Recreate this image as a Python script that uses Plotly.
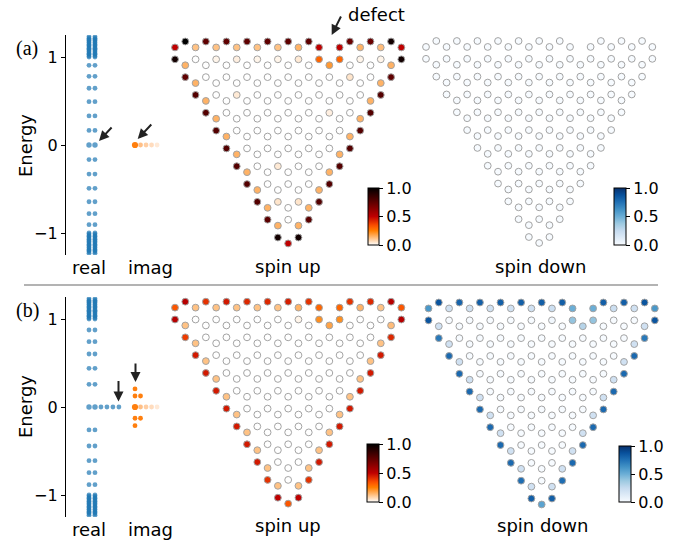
import numpy as np
import plotly.graph_objects as go

W, H = 675, 542
FONT = "DejaVu Sans"

# ---------------- spectrum data (energies) ----------------
real_a_levels = [-0.905, -0.78, -0.645, -0.492, -0.33, -0.166, 0.0, 0.166, 0.33, 0.492, 0.645, 0.78, 0.905]
real_a_counts = [2, 2, 2, 2, 2, 2, 2, 2, 2, 2, 2, 2, 2]
band_levels = [1.0, 1.012, 1.03, 1.041, 1.058, 1.07, 1.087, 1.1, 1.114, 1.131, 1.142,
               1.16, 1.171, 1.188, 1.2, 1.213, 1.229]
imag_a_levels = [0.0]
imag_a_counts = [5]

real_b_levels = [-0.883, -0.746, -0.61, -0.443, -0.26, 0.0, 0.258, 0.44, 0.602, 0.742, 0.875]
real_b_counts = [2, 2, 2, 2, 2, 6, 2, 2, 2, 2, 2]
imag_b_levels = [-0.212, -0.128, 0.0, 0.125, 0.205]
imag_b_counts = [1, 2, 5, 2, 1]

zero_imag_alpha = [1.0, 0.5, 0.38, 0.27, 0.17]

# ---------------- lattice site weights ----------------
defect_chain, defect_k = 0, 15

# panel (a) spin up
a_up_A = [0.5, 1.0, 0.12, 0.75, 0.12, 0.75, 0.12, 0.75, 0.12, 0.75, 0.12, 0.75, 0.15, 0.75,
          0.5, None, 0.5, 0.72, 0.15, 0.72, 0.13, 0.95, 0.5]
a_up_B = [0.95, 0.15, 0, 0, 0.02, 0, 0.03, 0, 0.02, 0, 0.02, 0, 0.04, 0, 0.3, 0.2, 0.3, 0,
          0.02, 0, 0.02, 0.15, 0.95]
a_up_left_outer = [0.75, 0.78, 0.78, 0.78, 0.78, 0.78, 0.78, 0.78, 0.76, 0.95]
a_up_left_inner = [0.15, 0.15, 0.15, 0.15, 0.15, 0.15, 0.15, 0.15, 0.15, 0.5]
a_up_right_inner = [0.15, 0.15, 0.15, 0.15, 0.15, 0.15, 0.15, 0.15, 0.15, 0.5]
a_up_right_outer = [0.75, 0.78, 0.78, 0.78, 0.78, 0.78, 0.78, 0.78, 0.76, 0.95]
a_up_pale = {(3, 6): 0.04, (7, 10): 0.04, (9, 10): 0.05, (9, 12): 0.05, (2, 17): 0.05, (4, 15): 0.03}

# panel (a) spin down: all empty
a_dn_A = [0.0] * 15 + [None] + [0.0] * 7
a_dn_B = [0.0] * 23
a_dn_left_outer = [0.0] * 10
a_dn_left_inner = [0.0] * 10
a_dn_right_inner = [0.0] * 10
a_dn_right_outer = [0.0] * 10
a_dn_pale = {}

# panel (b) spin up
b_up_A = [0.33, 0.52, 0.12, 0.4, 0.12, 0.45, 0.12, 0.42, 0.12, 0.42, 0.12, 0.44, 0.15, 0.4,
          0.3, None, 0.3, 0.4, 0.15, 0.42, 0.12, 0.52, 0.33]
b_up_B = [0.52, 0.12, 0, 0, 0, 0, 0, 0, 0, 0, 0, 0, 0.02, 0, 0.22, 0.18, 0.22, 0, 0, 0, 0,
          0.13, 0.52]
b_up_left_outer = [0.38, 0.45, 0.45, 0.45, 0.45, 0.45, 0.45, 0.45, 0.4, 0.5]
b_up_left_inner = [0.12, 0.12, 0.12, 0.12, 0.12, 0.12, 0.12, 0.12, 0.12, 0.33]
b_up_right_inner = [0.12, 0.12, 0.12, 0.12, 0.12, 0.12, 0.12, 0.12, 0.12, 0.33]
b_up_right_outer = [0.42, 0.45, 0.45, 0.45, 0.45, 0.45, 0.45, 0.45, 0.4, 0.5]
b_up_pale = {}

# panel (b) spin down
b_dn_A = [0.6, 0.86, 0.2, 0.8, 0.2, 0.82, 0.2, 0.82, 0.2, 0.82, 0.2, 0.82, 0.22, 0.82,
          0.5, None, 0.5, 0.82, 0.22, 0.82, 0.2, 0.86, 0.6]
b_dn_B = [0.86, 0.2, 0, 0, 0, 0, 0, 0, 0, 0, 0, 0, 0.03, 0, 0.4, 0.3, 0.4, 0, 0, 0, 0,
          0.2, 0.86]
b_dn_left_outer = [0.72, 0.78, 0.78, 0.78, 0.78, 0.78, 0.78, 0.78, 0.76, 0.82]
b_dn_left_inner = [0.2, 0.2, 0.2, 0.2, 0.2, 0.2, 0.2, 0.2, 0.2, 0.55]
b_dn_right_inner = [0.2, 0.2, 0.2, 0.2, 0.2, 0.2, 0.2, 0.2, 0.2, 0.55]
b_dn_right_outer = [0.72, 0.78, 0.78, 0.78, 0.78, 0.78, 0.78, 0.78, 0.76, 0.82]
b_dn_pale = {}

# ---------------- colour scales ----------------
def gist_heat_r():
    out = []
    for i in range(21):
        t = i / 20
        x = 1 - t
        r = min(max(1.5 * x, 0), 1)
        g = min(max(2 * x - 1, 0), 1)
        b = min(max(4 * x - 3, 0), 1)
        out.append([t, f"rgb({int(r*255)},{int(g*255)},{int(b*255)})"])
    return out

HEAT = gist_heat_r()
BLUES = [[0.0, "rgb(247,251,255)"], [0.125, "rgb(222,235,247)"], [0.25, "rgb(198,219,239)"],
         [0.375, "rgb(158,202,225)"], [0.5, "rgb(107,174,214)"], [0.625, "rgb(66,146,198)"],
         [0.75, "rgb(33,113,181)"], [0.875, "rgb(8,81,156)"], [1.0, "rgb(8,48,107)"]]

# ---------------- builders ----------------
SQ3 = np.sqrt(3)

def lattice(A, B, lo, li, ri, ro, pale):
    xs, ys, vs = [], [], []
    for j in range(12):
        ks = range(0, 23) if j < 2 else range(j - 1, 24 - j)
        n = len(ks)
        for idx, k in enumerate(ks):
            if j == defect_chain and k == defect_k:
                continue
            up = (k % 2 == 1) if j % 2 == 0 else (k % 2 == 0)
            if j == 0:
                v = A[k]
            elif j == 1:
                v = B[k]
            elif idx == 0:
                v = lo[j - 2]
            elif idx == n - 1:
                v = ro[j - 2]
            elif idx == 1:
                v = li[j - 2]
            elif idx == n - 2:
                v = ri[j - 2]
            else:
                v = pale.get((j, k), 0.0)
            xs.append(k * SQ3 / 2)
            ys.append(-1.5 * j + (0.0 if up else -0.5))
            vs.append(v)
    return xs, ys, vs

def spectrum(levels, counts, base, dx):
    xs, ys, idx = [], [], []
    for e, c in zip(levels, counts):
        for i in range(c):
            xs.append(base + i * dx)
            ys.append(e)
            idx.append(i)
    return xs, ys, idx

fig = go.Figure()
layout = dict(width=W, height=H, margin=dict(l=0, r=0, t=0, b=0), showlegend=False,
              paper_bgcolor="white", plot_bgcolor="rgba(0,0,0,0)",
              font=dict(family=FONT, color="black"))

S = 11.88  # pixels per bond length
axis_n = [0]

def new_axes():
    axis_n[0] += 1
    n = axis_n[0]
    return "" if n == 1 else str(n)

def cbar(L, R, T, B):
    return dict(x=L / W, xanchor="left", y=1 - B / H, yanchor="bottom", len=B - T,
                lenmode="pixels", thickness=R - L, thicknessmode="pixels", xpad=0, ypad=0,
                outlinewidth=1, outlinecolor="black", ticks="outside", ticklen=4,
                tickwidth=1, tickcolor="black", tickvals=[0, 0.5, 1],
                ticktext=["0.0", "0.5", "1.0"], tickfont=dict(size=16, family=FONT, color="black"))

def add_spectrum(top, bottom, real_levels, real_counts, imag_levels, imag_counts):
    sx = new_axes()
    px0, ppu = 89.0, 46.0  # real column pixel, pixels per x unit
    L, R = 66.0, 170.0
    layout["xaxis" + sx] = dict(domain=[L / W, R / W], range=[(L - px0) / ppu, (R - px0) / ppu],
                               visible=False, anchor="y" + sx, fixedrange=True)
    layout["yaxis" + sx] = dict(domain=[1 - bottom / H, 1 - top / H], range=[-1.25, 1.25],
                               anchor="x" + sx, showline=True, linecolor="black", linewidth=1.2,
                               ticks="outside", ticklen=4, tickcolor="black", tickvals=[-1, 0, 1],
                               showgrid=False, zeroline=False, fixedrange=True,
                               tickfont=dict(size=16, family=FONT, color="black"))
    lv = list(real_levels) + band_levels + [-v for v in band_levels]
    cn = list(real_counts) + [2] * (2 * len(band_levels))
    xr, yr, ir = spectrum(lv, cn, 0.0, 0.13)
    sizes = [5.4 if (y == 0 and i < 2) else 4.8 for y, i in zip(yr, ir)]
    fig.add_trace(go.Scatter(x=xr, y=yr, mode="markers", xaxis="x" + sx, yaxis="y" + sx,
                             marker=dict(size=sizes, color="#1f77b4", line=dict(width=0)),
                             hoverinfo="skip"))
    xi, yi, ii = spectrum(imag_levels, imag_counts, 1.0, 0.12)
    cols, sz = [], []
    for y, i in zip(yi, ii):
        a = zero_imag_alpha[i] if y == 0 else 1.0
        cols.append(f"rgba(255,127,14,{a})")
        sz.append(6.2 if (y == 0 and i == 0) else 4.8)
    fig.add_trace(go.Scatter(x=xi, y=yi, mode="markers", xaxis="x" + sx, yaxis="y" + sx,
                             marker=dict(size=sz, color=cols, line=dict(width=0), opacity=1),
                             hoverinfo="skip"))

def add_lattice(ox, oy, data, cscale, cb):
    sx = new_axes()
    L, R, T, B = ox - 12, ox + 240, oy - 12, oy + 215
    layout["xaxis" + sx] = dict(domain=[L / W, R / W], range=[(L - ox) / S, (R - ox) / S],
                               visible=False, anchor="y" + sx, fixedrange=True)
    layout["yaxis" + sx] = dict(domain=[1 - B / H, 1 - T / H], range=[(oy - B) / S, (oy - T) / S],
                               visible=False, anchor="x" + sx, fixedrange=True)
    xs, ys, vs = lattice(*data)
    fig.add_trace(go.Scatter(x=xs, y=ys, mode="markers", xaxis="x" + sx, yaxis="y" + sx,
                             marker=dict(size=6.8, color=vs, colorscale=cscale, cmin=0, cmax=1,
                                         line=dict(width=1, color="#a3a3a3"),
                                         colorbar=cbar(*cb), showscale=True),
                             hoverinfo="skip"))

add_spectrum(35, 255, real_a_levels, real_a_counts, imag_a_levels, imag_a_counts)
add_lattice(175, 41.5, (a_up_A, a_up_B, a_up_left_outer, a_up_left_inner, a_up_right_inner,
                        a_up_right_outer, a_up_pale), HEAT, (368, 379, 188, 245))
add_lattice(426, 41, (a_dn_A, a_dn_B, a_dn_left_outer, a_dn_left_inner, a_dn_right_inner,
                      a_dn_right_outer, a_dn_pale), BLUES, (614, 626, 188, 245))
add_spectrum(297, 517, real_b_levels, real_b_counts, imag_b_levels, imag_b_counts)
add_lattice(175, 301.7, (b_up_A, b_up_B, b_up_left_outer, b_up_left_inner, b_up_right_inner,
                         b_up_right_outer, b_up_pale), HEAT, (367.5, 379, 444.5, 502))
add_lattice(428.5, 302.5, (b_dn_A, b_dn_B, b_dn_left_outer, b_dn_left_inner, b_dn_right_inner,
                           b_dn_right_outer, b_dn_pale), BLUES, (619, 631, 446, 502))

# ---------------- texts & arrows ----------------
ann = []
def text(x, y, s, size=18, family=FONT, angle=0, xanchor="center"):
    ann.append(dict(x=x / W, y=1 - y / H, xref="paper", yref="paper", text=s, showarrow=False,
                    xanchor=xanchor, yanchor="middle", textangle=angle,
                    font=dict(size=size, family=family, color="black")))

def arrow(xt, yt, xs, ys):
    ann.append(dict(x=xt / W, y=1 - yt / H, xref="paper", yref="paper", text="", showarrow=True,
                    ax=xs - xt, ay=ys - yt, arrowhead=2, arrowsize=1, arrowwidth=2,
                    arrowcolor="#222222", standoff=0))

for (dy, lab) in [(0, "(a)"), (262, "(b)")]:
    text(27, 48 + dy, lab, size=20, family="Liberation Serif")
text(25, 146, "Energy", angle=-90)
text(25, 407, "Energy", angle=-90)
text(88.5, 267, "real")
text(150.5, 267, "imag")
text(88.5, 529, "real")
text(150.5, 529, "imag")
text(288, 266, "spin up")
text(541, 266, "spin down")
text(288, 525, "spin up")
text(543, 525, "spin down")
text(346, 15, "defect", xanchor="left")

arrow(99, 141, 113, 126)
arrow(137.7, 139, 152.7, 123)
arrow(331.7, 35, 341.7, 15)
arrow(118.5, 401.5, 118.5, 379.5)
arrow(135.5, 382, 135.5, 362)

layout["annotations"] = ann
layout["shapes"] = [dict(type="line", xref="paper", yref="paper", x0=24 / W, x1=658 / W,
                         y0=1 - 285 / H, y1=1 - 285 / H, line=dict(color="#b3b3b3", width=2))]
fig.update_layout(**layout)
fig.write_html("out.html", config={"displayModeBar": False, "staticPlot": True},
               post_script="document.body.style.margin='0';document.body.style.overflow='hidden';")
